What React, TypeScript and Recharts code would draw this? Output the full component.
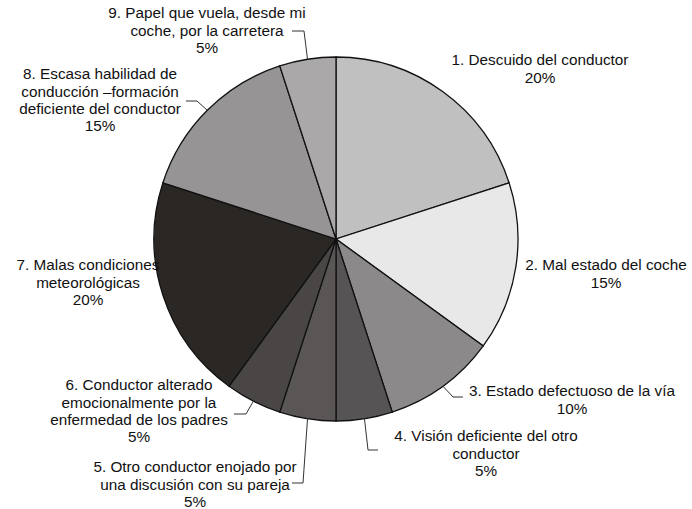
import React from 'react';
import { PieChart, Pie, Cell } from 'recharts';

const labelLines = [
  ['1. Descuido del conductor'],
  ['2. Mal estado del coche'],
  ['3. Estado defectuoso de la vía'],
  ['4. Visión deficiente del otro', 'conductor'],
  ['5. Otro conductor enojado por', 'una discusión con su pareja'],
  ['6. Conductor alterado', 'emocionalmente por la', 'enfermedad de los padres'],
  ['7. Malas condiciones', 'meteorológicas'],
  ['8. Escasa habilidad de', 'conducción –formación', 'deficiente del conductor'],
  ['9. Papel que vuela, desde mi', 'coche, por la carretera'],
];
const values = [20, 15, 10, 5, 5, 5, 20, 15, 5];

const colors = ['#c0c0c0', '#e8e8e8', '#8b8989', '#565454', '#5a5656', '#4a4646', '#2b2724', '#969494', '#aaa8a8'];

// text centre (first line) and leader elbow/end, relative to pie centre
const layout = [
  { tx: 204, ty: -179, leader: null },
  { tx: 270, ty: 26, leader: null },
  { tx: 236, ty: 152, leader: [117, 158, 127, 158] },
  { tx: 150, ty: 197, leader: [32, 211, 42, 211] },
  { tx: -141, ty: 228, leader: [-33, 244, -44, 244] },
  { tx: -197, ty: 146, leader: [-90, 175, -102, 175] },
  { tx: -248, ty: 26, leader: null },
  { tx: -236, ty: -165, leader: [-139, -138, -150, -138] },
  { tx: -129, ty: -226, leader: [-32, -208, -44, -208] },
];

const data = values.map((v, i) => ({ name: labelLines[i].join(' '), value: v }));

const RAD = Math.PI / 180;
const FS = 15.3;
const LH = 17.2;

const renderLabel = (props: any) => {
  const { cx, cy, midAngle, outerRadius, index, value } = props;
  const l = layout[index];
  const lines = [...labelLines[index], `${value}%`];
  const sx = cx + outerRadius * Math.cos(-midAngle * RAD);
  const sy = cy + outerRadius * Math.sin(-midAngle * RAD);
  return (
    <g>
      {l.leader && (
        <polyline
          points={`${sx},${sy} ${cx + l.leader[0]},${cy + l.leader[1]} ${cx + l.leader[2]},${cy + l.leader[3]}`}
          fill="none"
          stroke="#333"
          strokeWidth={1}
        />
      )}
      <text
        x={cx + l.tx}
        y={cy + l.ty + FS * 0.35}
        textAnchor="middle"
        fontFamily="'Liberation Sans', Arial, sans-serif"
        fontSize={FS}
        fill="#111"
      >
        {lines.map((t, j) => (
          <tspan key={j} x={cx + l.tx} dy={j === 0 ? 0 : LH}>
            {t}
          </tspan>
        ))}
      </text>
    </g>
  );
};

export default function App() {
  return (
    <div style={{ position: 'absolute', left: 0, top: 0, width: 692, height: 509, background: '#fff' }}>
      <PieChart width={692} height={509} margin={{ top: 0, right: 0, bottom: 0, left: 0 }}>
        <Pie
          data={data}
          dataKey="value"
          cx={336}
          cy={239}
          outerRadius={182}
          startAngle={90}
          endAngle={-270}
          stroke="#111"
          strokeWidth={1.3}
          label={renderLabel}
          labelLine={false}
          isAnimationActive={false}
        >
          {data.map((d, i) => (
            <Cell key={i} fill={colors[i]} />
          ))}
        </Pie>
      </PieChart>
    </div>
  );
}
